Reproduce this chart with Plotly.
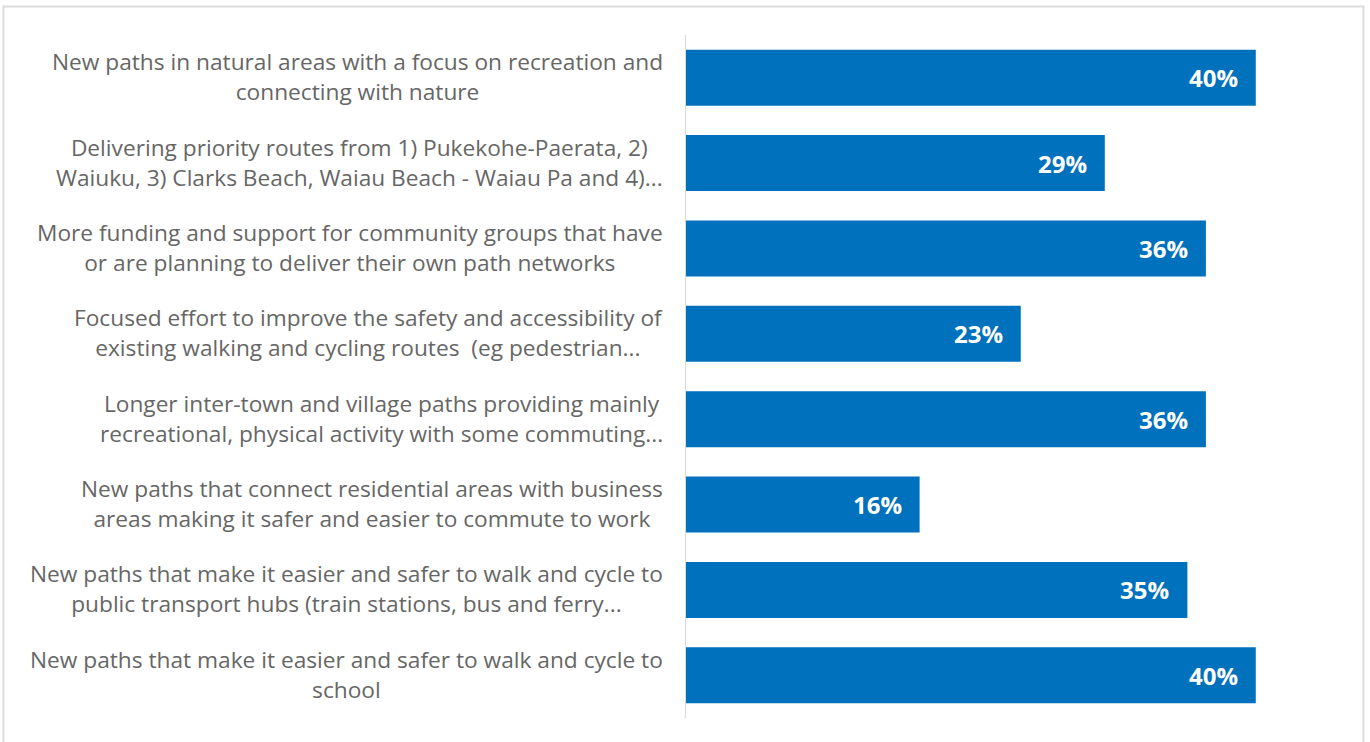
import plotly.graph_objects as go

categories = [
    "New paths in natural areas with a focus on recreation and<br>connecting with nature",
    "Delivering priority routes from 1) Pukekohe-Paerata, 2)<br>Waiuku, 3) Clarks Beach, Waiau Beach - Waiau Pa and 4)...",
    "More funding and support for community groups that have<br>or are planning to deliver their own path networks",
    "Focused effort to improve the safety and accessibility of<br>existing walking and cycling routes  (eg pedestrian...",
    "Longer inter-town and village paths providing mainly<br>recreational, physical activity with some commuting...",
    "New paths that connect residential areas with business<br>areas making it safer and easier to commute to work",
    "New paths that make it easier and safer to walk and cycle to<br>public transport hubs (train stations, bus and ferry...",
    "New paths that make it easier and safer to walk and cycle to<br>school",
]
values = [40.0, 29.4, 36.5, 23.5, 36.5, 16.4, 35.2, 40.0]
value_labels = ["40%", "29%", "36%", "23%", "36%", "16%", "35%", "40%"]

W, H = 1370, 742
ML, MR, MT, MB = 686, 43, 35, 24
x_max = 45
bar_color = "#0071BC"

keys = [f"c{i}" for i in range(len(categories))]

fig = go.Figure(go.Bar(
    x=values, y=keys, orientation="h",
    marker=dict(color=bar_color, line=dict(width=0)),
    hoverinfo="skip",
))

annotations = []
for k, cat in zip(keys, categories):
    annotations.append(dict(
        x=0, xref="paper", y=k, yref="y", xanchor="right", yanchor="middle",
        xshift=-21, yshift=1, text=cat, align="center", showarrow=False,
        font=dict(family="Open Sans", size=22.7, color="#666666"),
    ))
for k, v, t in zip(keys, values, value_labels):
    annotations.append(dict(
        x=v, xref="x", y=k, yref="y", xanchor="right", yanchor="middle",
        xshift=-16, text="<b>" + t + "</b>", showarrow=False,
        font=dict(family="Open Sans", size=24, color="#ffffff"),
    ))

pw = W - ML - MR
ph = H - MT - MB
def px2paper_x(px):
    return (px - ML) / pw
def px2paper_y(py):
    return 1 - (py - MT) / ph

fig.update_layout(
    width=W, height=H,
    margin=dict(l=ML, r=MR, t=MT, b=MB, pad=0),
    paper_bgcolor="white", plot_bgcolor="white",
    showlegend=False,
    bargap=0.345,
    xaxis=dict(range=[0, x_max], visible=False, fixedrange=True),
    yaxis=dict(autorange="reversed", showticklabels=False, showgrid=False,
               showline=True, linecolor="#d9d9d9", linewidth=1, zeroline=False,
               ticks=""),
    annotations=annotations,
    shapes=[dict(
        type="rect", xref="paper", yref="paper", layer="below",
        x0=px2paper_x(3.5), x1=px2paper_x(1363.5),
        y0=px2paper_y(760), y1=px2paper_y(6.5),
        line=dict(color="#dcdcdc", width=2), fillcolor="rgba(0,0,0,0)",
    )],
)

fig.write_html("out.html", config={"displayModeBar": False})
